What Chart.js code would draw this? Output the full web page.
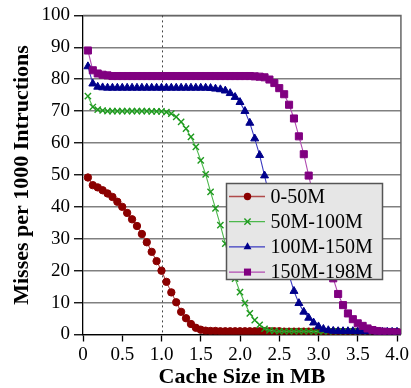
<!DOCTYPE html>
<html>
<head>
<meta charset="utf-8">
<script src="https://cdn.jsdelivr.net/npm/chart.js@4.4.0/dist/chart.umd.min.js"></script>
<style>
  html, body { margin: 0; padding: 0; background: #fff; }
  #wrap { width: 411px; height: 388px; }
</style>
</head>
<body>
<div id="wrap"><canvas id="missChart" width="411" height="388"></canvas></div>
<script>
// Cache sizes (MB), one sample every 64 KB
const cacheSizesMB = [
    0.0625, 0.125, 0.1875, 0.25, 0.3125, 0.375, 0.4375, 0.5,
    0.5625, 0.625, 0.6875, 0.75, 0.8125, 0.875, 0.9375, 1.0,
    1.0625, 1.125, 1.1875, 1.25, 1.3125, 1.375, 1.4375, 1.5,
    1.5625, 1.625, 1.6875, 1.75, 1.8125, 1.875, 1.9375, 2.0,
    2.0625, 2.125, 2.1875, 2.25, 2.3125, 2.375, 2.4375, 2.5,
    2.5625, 2.625, 2.6875, 2.75, 2.8125, 2.875, 2.9375, 3.0,
    3.0625, 3.125, 3.1875, 3.25, 3.3125, 3.375, 3.4375, 3.5,
    3.5625, 3.625, 3.6875, 3.75, 3.8125, 3.875, 3.9375, 4.0
];

const seriesLabels = ['0-50M', '50M-100M', '100M-150M', '150M-198M'];

// misses per 1000 instructions
const miss0to50 = [
    49.2, 46.8, 46.1, 45.2, 44.2, 43.1, 41.6, 40.0,
    38.1, 36.1, 34.0, 31.5, 28.9, 25.9, 23.0, 20.0,
    16.5, 13.2, 10.1, 7.1, 5.1, 3.3, 2.1, 1.5,
    1.2, 1.1, 1.1, 1.0, 1.0, 1.0, 1.0, 1.0,
    1.0, 1.0, 1.0, 1.0, 1.0, 1.0, 1.0, 1.0,
    0.9, 0.9, 0.9, 0.9, 0.9, 0.9, 0.9, 0.9,
    0.9, 0.9, 0.9, 0.9, 0.8, 0.8, 0.8, 0.8,
    0.8, 0.8, 0.8, 0.8, 0.8, 0.8, 0.8, 0.8
];
const miss50to100 = [
    74.7, 71.3, 70.5, 70.2, 70.0, 70.0, 70.0, 70.0,
    70.0, 70.0, 70.0, 70.0, 70.0, 69.9, 69.9, 69.9,
    69.7, 69.2, 68.2, 66.6, 64.5, 61.9, 58.8, 54.6,
    50.2, 44.7, 39.5, 34.3, 28.5, 22.8, 17.5, 13.3,
    9.8, 6.6, 4.5, 3.0, 1.8, 1.3, 1.1, 1.0,
    1.0, 1.0, 1.0, 1.0, 1.0, 1.0, 0.9, 0.9,
    0.9, 0.9, 0.9, 0.9, 0.9, 0.9, 0.9, 0.8,
    0.8, 0.8, 0.8, 0.8, 0.8, 0.8, 0.8, 0.8
];
const miss100to150 = [
    84.0, 78.6, 77.6, 77.4, 77.3, 77.3, 77.3, 77.3,
    77.3, 77.3, 77.3, 77.3, 77.3, 77.3, 77.3, 77.3,
    77.3, 77.3, 77.3, 77.3, 77.3, 77.3, 77.3, 77.3,
    77.3, 77.2, 77.0, 76.8, 76.4, 75.6, 74.4, 72.8,
    70.0, 66.3, 61.4, 56.2, 49.8, 43.4, 36.9, 30.5,
    24.4, 18.6, 13.6, 9.8, 7.1, 5.2, 3.7, 2.5,
    1.7, 1.3, 1.1, 1.0, 1.0, 1.0, 1.0, 0.9,
    0.9, 0.9, 0.9, 0.8, 0.8, 0.8, 0.8, 0.8
];
const miss150to198 = [
    89.0, 82.8, 81.8, 81.4, 81.2, 81.0, 81.0, 81.0,
    81.0, 81.0, 81.0, 81.0, 81.0, 81.0, 81.0, 81.0,
    81.0, 81.0, 81.0, 81.0, 81.0, 81.0, 81.0, 81.0,
    81.0, 81.0, 81.0, 81.0, 81.0, 81.0, 81.0, 81.0,
    81.0, 81.0, 80.9, 80.8, 80.6, 79.9, 78.8, 77.2,
    75.3, 72.0, 67.7, 62.1, 56.5, 49.8, 43.2, 36.6,
    30.0, 23.6, 17.6, 12.7, 9.2, 6.6, 4.8, 3.5,
    2.7, 1.9, 1.4, 1.1, 0.9, 0.8, 0.7, 0.6
];

const xTickValues = [0, 0.5, 1.0, 1.5, 2.0, 2.5, 3.0, 3.5, 4.0];
const xTickLabels = ['0', '0.5', '1.0', '1.5', '2.0', '2.5', '3.0', '3.5', '4.0'];
const yTickValues = [0, 10, 20, 30, 40, 50, 60, 70, 80, 90, 100];

const SERIF = "'Liberation Serif', 'Times New Roman', serif";

const styles = [
    { mark: '#8b0000', line: '#b04a4a', shape: 'circle', r: 3.7 },
    { mark: '#1f9a1f', line: '#4cb84c', shape: 'crossRot', r: 4.4 },
    { mark: '#00008b', line: '#3a3ac0', shape: 'triangle', r: 4.6 },
    { mark: '#800080', line: '#b04ab0', shape: 'rect', r: 5 }
];

const seriesData = [miss0to50, miss50to100, miss100to150, miss150to198];

const datasets = seriesData.map((vals, i) => ({
    label: seriesLabels[i],
    data: vals.map((v, j) => ({ x: cacheSizesMB[j], y: v })),
    borderColor: styles[i].line,
    borderWidth: 1.1,
    pointStyle: styles[i].shape,
    pointRadius: styles[i].r,
    pointBackgroundColor: styles[i].mark,
    pointBorderColor: styles[i].mark,
    pointBorderWidth: styles[i].shape === 'crossRot' ? 1.4 : 1,
    tension: 0,
    order: 4 - i
}));

// simple marker painter for the legend
function drawMarker(ctx, shape, x, y, r, color) {
    ctx.save();
    ctx.fillStyle = color;
    ctx.strokeStyle = color;
    ctx.lineWidth = 1.4;
    ctx.beginPath();
    if (shape === 'circle') {
        ctx.arc(x, y, r, 0, Math.PI * 2);
        ctx.fill();
    } else if (shape === 'rect') {
        const s = r * Math.SQRT1_2;
        ctx.fillRect(x - s, y - s, 2 * s, 2 * s);
    } else if (shape === 'triangle') {
        const h = r * 1.5, w = r * Math.sqrt(3) / 2;
        ctx.moveTo(x - w, y + h / 3);
        ctx.lineTo(x + w, y + h / 3);
        ctx.lineTo(x, y - 2 * h / 3);
        ctx.closePath();
        ctx.fill();
    } else if (shape === 'crossRot') {
        const d = r * Math.SQRT1_2;
        ctx.moveTo(x - d, y - d); ctx.lineTo(x + d, y + d);
        ctx.moveTo(x - d, y + d); ctx.lineTo(x + d, y - d);
        ctx.stroke();
    }
    ctx.restore();
}

// frame + dotted marker line at 1 MB, drawn under the data
const framePlugin = {
    id: 'frame',
    beforeDatasetsDraw(chart) {
        const { ctx, chartArea: a, scales } = chart;
        ctx.save();
        ctx.strokeStyle = '#666';
        ctx.lineWidth = 1.5;
        ctx.beginPath();
        ctx.moveTo(a.left, a.top);
        ctx.lineTo(a.right, a.top);
        ctx.lineTo(a.right, a.bottom);
        ctx.stroke();

        const x1 = Math.round(scales.x.getPixelForValue(1.0)) + 0.5;
        ctx.strokeStyle = '#444';
        ctx.lineWidth = 1;
        ctx.setLineDash([2, 3]);
        ctx.beginPath();
        ctx.moveTo(x1, a.top);
        ctx.lineTo(x1, a.bottom);
        ctx.stroke();
        ctx.restore();
    }
};

// boxed legend with line + marker samples
const legendPlugin = {
    id: 'boxLegend',
    afterDraw(chart) {
        const ctx = chart.ctx;
        const bx = 226.5, by = 183.5, bw = 156, bh = 96;
        ctx.save();
        ctx.fillStyle = '#e6e6e6';
        ctx.fillRect(bx, by, bw, bh);
        ctx.strokeStyle = '#555';
        ctx.lineWidth = 1.5;
        ctx.strokeRect(bx, by, bw, bh);

        ctx.font = '20px ' + SERIF;
        ctx.textBaseline = 'middle';
        ctx.textAlign = 'left';
        chart.data.datasets.forEach((ds, i) => {
            const y = 196.5 + i * 25.2;
            ctx.strokeStyle = styles[i].line;
            ctx.lineWidth = 1.3;
            ctx.beginPath();
            ctx.moveTo(229, y);
            ctx.lineTo(265, y);
            ctx.stroke();
            drawMarker(ctx, styles[i].shape, 247.5, y, styles[i].r, styles[i].mark);
            ctx.fillStyle = '#000';
            ctx.fillText(ds.label, 270.5, y + 1);
        });
        ctx.restore();
    }
};

new Chart(document.getElementById('missChart'), {
    type: 'line',
    data: { datasets: datasets },
    options: {
        responsive: false,
        animation: false,
        devicePixelRatio: 1,
        layout: { padding: { top: 15, right: 10, left: 0, bottom: 0 } },
        plugins: { legend: { display: false }, tooltip: { enabled: false } },
        scales: {
            x: {
                type: 'linear',
                min: 0,
                max: 4.05,
                afterBuildTicks: scale => { scale.ticks = xTickValues.map(v => ({ value: v })); },
                afterFit: scale => { scale.height = 53.5; },
                ticks: {
                    color: '#000',
                    font: { family: SERIF, size: 19 },
                    padding: 2,
                    maxRotation: 0,
                    callback: (v, i) => xTickLabels[i]
                },
                grid: { drawOnChartArea: false, drawTicks: true, tickLength: 7, tickColor: '#000', tickWidth: 1.3 },
                border: { color: '#000', width: 1.3 },
                title: {
                    display: true,
                    text: 'Cache Size in MB',
                    color: '#000',
                    font: { family: SERIF, size: 22, weight: 'bold', lineHeight: 1 },
                    padding: 0
                }
            },
            y: {
                min: 0,
                max: 100,
                afterBuildTicks: scale => { scale.ticks = yTickValues.map(v => ({ value: v })); },
                afterFit: scale => { scale.width = 83; },
                ticks: {
                    color: '#000',
                    font: { family: SERIF, size: 19 },
                    padding: 4
                },
                grid: { color: '#808080', lineWidth: 1.5, tickLength: 9, tickColor: '#000', tickWidth: 1.3 },
                border: { color: '#000', width: 1.3 },
                title: {
                    display: true,
                    text: 'Misses per 1000 Intructions',
                    color: '#000',
                    font: { family: SERIF, size: 22, weight: 'bold', lineHeight: 1 },
                    padding: { top: 11, bottom: 0 }
                }
            }
        }
    },
    plugins: [framePlugin, legendPlugin]
});
</script>
</body>
</html>
